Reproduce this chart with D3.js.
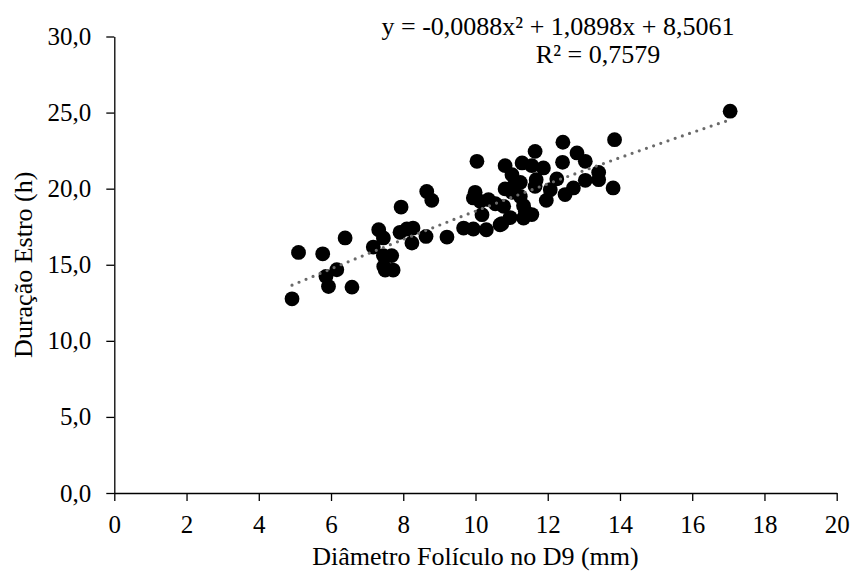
<!DOCTYPE html>
<html>
<head>
<meta charset="utf-8">
<script src="https://cdn.jsdelivr.net/npm/d3@7"></script>
<style>
  body { margin: 0; background: #fff; }
  text { font-family: "Liberation Serif", "Times New Roman", serif; fill: #000; }
</style>
</head>
<body>
<svg id="chart" width="853" height="576"></svg>
<script>
// diâmetro folículo no D9 (mm)
const diametro = [
  4.92, 5.10, 5.77, 6.39, 5.86, 6.16, 5.93, 6.58, 7.17, 7.32,
  7.45, 7.45, 7.68, 7.46, 7.50, 7.72, 7.91, 8.10, 8.27, 8.24,
  7.94, 8.65, 8.79, 8.63, 9.21, 9.67, 9.94, 10.30, 10.68, 10.73,
  10.96, 11.33, 11.56, 11.38, 11.33, 10.78, 10.55, 10.36, 10.13, 9.94,
  9.99, 10.18, 10.04, 10.82, 11.01, 11.29, 11.56, 11.88, 11.65, 12.42,
  12.41, 12.81, 13.04, 13.85, 13.41, 13.41, 13.04, 13.81, 12.71, 12.48,
  12.25, 12.07, 11.96, 11.68, 11.65, 11.24, 10.82, 11.01, 11.24, 11.05,
  17.05
];
// duração do estro (h)
const duracao = [
  12.76, 15.81, 15.72, 16.76, 14.23, 14.67, 13.57, 13.53, 16.16, 17.30,
  16.76, 15.60, 15.60, 14.89, 14.65, 14.65, 17.13, 17.35, 17.41, 16.43,
  18.79, 19.82, 19.23, 16.86, 16.82, 17.41, 17.35, 17.30, 17.63, 17.70,
  18.10, 18.07, 18.30, 18.51, 18.88, 18.84, 19.01, 19.28, 19.17, 19.39,
  19.76, 18.29, 21.80, 21.51, 20.92, 21.69, 21.51, 21.36, 22.45, 23.05,
  21.73, 22.35, 21.80, 23.22, 21.07, 20.59, 20.55, 20.05, 20.05, 19.61,
  20.64, 19.93, 19.23, 20.59, 20.15, 20.41, 19.98, 19.76, 19.49, 20.15,
  25.09
];

const xTicks = [0, 2, 4, 6, 8, 10, 12, 14, 16, 18, 20];
const yTicks = [0, 5, 10, 15, 20, 25, 30];

// polynomial trendline (order 2), coefficients as printed on the chart
const coef = [-0.0088, 1.0898, 8.5061];
const equationLines = ["y = -0,0088x² + 1,0898x + 8,5061", "R² = 0,7579"];

const svg = d3.select("#chart");
svg.append("rect").attr("width", 853).attr("height", 576).attr("fill", "#fff");

const x = d3.scaleLinear().domain([0, 20]).range([114.3, 836.7]);
const y = d3.scaleLinear().domain([0, 30]).range([493, 36.5]);

const comma = d => d3.format(".1f")(d).replace(".", ",");

// axes
const gx = svg.append("g")
  .attr("transform", "translate(0," + y(0) + ")")
  .call(d3.axisBottom(x).tickValues(xTicks).tickSize(8).tickSizeOuter(0).tickPadding(14));

const gy = svg.append("g")
  .attr("transform", "translate(" + x(0) + ",0)")
  .call(d3.axisLeft(y).tickValues(yTicks).tickFormat(comma).tickSize(8).tickSizeOuter(0).tickPadding(15));

[gx, gy].forEach(g => {
  g.selectAll("path, line").attr("stroke", "#000").attr("stroke-width", 1.3);
  g.selectAll("text").style("font-size", "25px").style("font-family", "Liberation Serif");
});

// points
const pts = diametro.map((d, i) => ({ d: d, h: duracao[i] }));
svg.append("g")
  .selectAll("circle")
  .data(pts)
  .enter()
  .append("circle")
    .attr("cx", p => x(p.d))
    .attr("cy", p => y(p.h))
    .attr("r", 7.4)
    .attr("fill", "#000");

// trendline over the data range
const xmin = d3.min(diametro), xmax = d3.max(diametro);
const fitX = d3.range(0, 61).map(i => xmin + (xmax - xmin) * i / 60);
const line = d3.line()
  .x(v => x(v))
  .y(v => y(coef[0] * v * v + coef[1] * v + coef[2]));

svg.append("path")
  .datum(fitX)
  .attr("d", line)
  .attr("fill", "none")
  .attr("stroke", "#6a6a6a")
  .attr("stroke-width", 3.2)
  .attr("stroke-linecap", "round")
  .attr("stroke-dasharray", "0,7.6");

// equation label
svg.append("text")
  .attr("x", 558).attr("y", 35)
  .attr("text-anchor", "middle")
  .style("font-size", "26px")
  .text(equationLines[0]);
svg.append("text")
  .attr("x", 598).attr("y", 63)
  .attr("text-anchor", "middle")
  .style("font-size", "26px")
  .text(equationLines[1]);

// axis titles
svg.append("text")
  .attr("text-anchor", "middle")
  .attr("transform", "translate(" + ((x(0) + x(20)) / 2) + ",565)")
  .style("font-size", "26px")
  .text("Diâmetro Folículo no D9 (mm)");

svg.append("text")
  .attr("text-anchor", "middle")
  .attr("transform", "translate(32," + ((y(0) + y(30)) / 2) + ")rotate(-90)")
  .style("font-size", "26px")
  .text("Duração Estro (h)");
</script>
</body>
</html>
